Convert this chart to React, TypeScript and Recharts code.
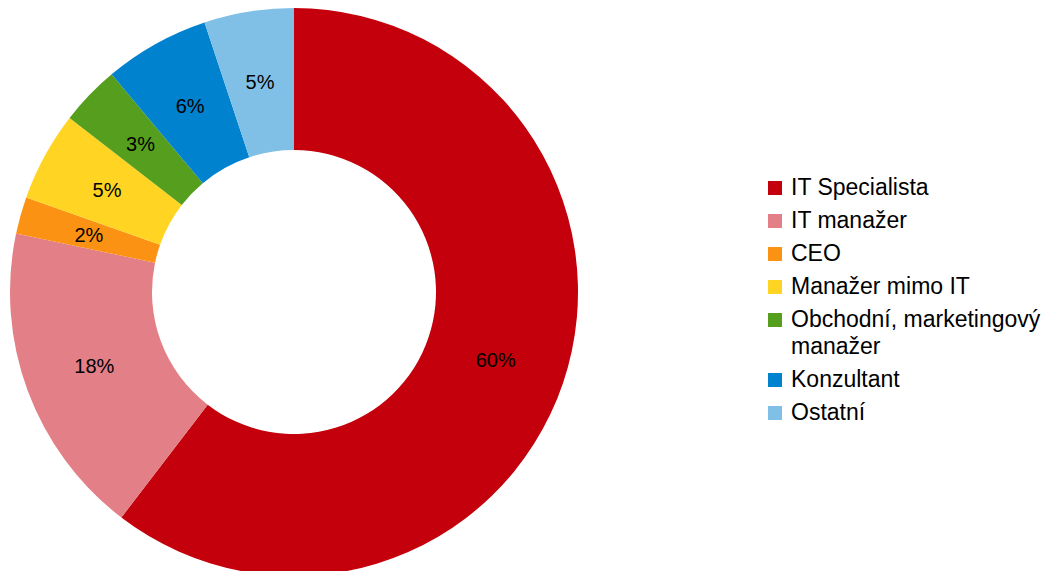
import React from 'react';
import { Cell, Legend, Pie, PieChart, type PieLabelRenderProps } from 'recharts';

const categories = [
  'IT Specialista',
  'IT manažer',
  'CEO',
  'Manažer mimo IT',
  'Obchodní, marketingový manažer',
  'Konzultant',
  'Ostatní',
];
const shares = [60.4, 17.9, 2.1, 5.1, 3.4, 6.0, 5.1];
const colors = ['#c3000b', '#e37f86', '#fc9213', '#ffd422', '#569f1e', '#0082cf', '#80c0e7'];

const data = categories.map((name, i) => ({ name, value: shares[i] }));

const FONT = '"Liberation Sans", Arial, sans-serif';
const RADIAN = Math.PI / 180;

const renderLabel = ({
  cx = 0,
  cy = 0,
  midAngle = 0,
  innerRadius = 0,
  outerRadius = 0,
  percent = 0,
}: PieLabelRenderProps) => {
  const r = (Number(innerRadius) + Number(outerRadius)) / 2;
  const x = Number(cx) + r * Math.cos(-midAngle * RADIAN);
  const y = Number(cy) + r * Math.sin(-midAngle * RADIAN);
  return (
    <text
      x={x}
      y={y}
      fill="#000"
      textAnchor="middle"
      dominantBaseline="central"
      fontSize={20}
      fontFamily={FONT}
    >
      {`${Math.round(percent * 100)}%`}
    </text>
  );
};

const renderLegend = () => (
  <div style={{ fontFamily: FONT, fontSize: 23, lineHeight: '27px', color: '#000' }}>
    {data.map((d, i) => (
      <div key={d.name} style={{ display: 'flex', alignItems: 'flex-start', marginBottom: 6 }}>
        <span
          style={{
            width: 14,
            height: 14,
            background: colors[i],
            marginTop: 7,
            marginRight: 9,
            flex: '0 0 auto',
          }}
        />
        <span style={{ width: 258 }}>{d.name}</span>
      </div>
    ))}
  </div>
);

export default function App() {
  return (
    <div style={{ position: 'absolute', left: 0, top: 0, width: 1048, height: 571, background: '#fff' }}>
      <PieChart width={1048} height={571} margin={{ top: 0, right: 0, bottom: 0, left: 0 }}>
        <Pie
          data={data}
          dataKey="value"
          nameKey="name"
          cx={294}
          cy={292}
          innerRadius={142}
          outerRadius={284}
          startAngle={90}
          endAngle={-270}
          stroke="none"
          isAnimationActive={false}
          labelLine={false}
          label={renderLabel}
        >
          {data.map((d, i) => (
            <Cell key={d.name} fill={colors[i]} />
          ))}
        </Pie>
        <Legend
          content={renderLegend}
          wrapperStyle={{ position: 'absolute', left: 768, top: 174, width: 280 }}
        />
      </PieChart>
    </div>
  );
}
